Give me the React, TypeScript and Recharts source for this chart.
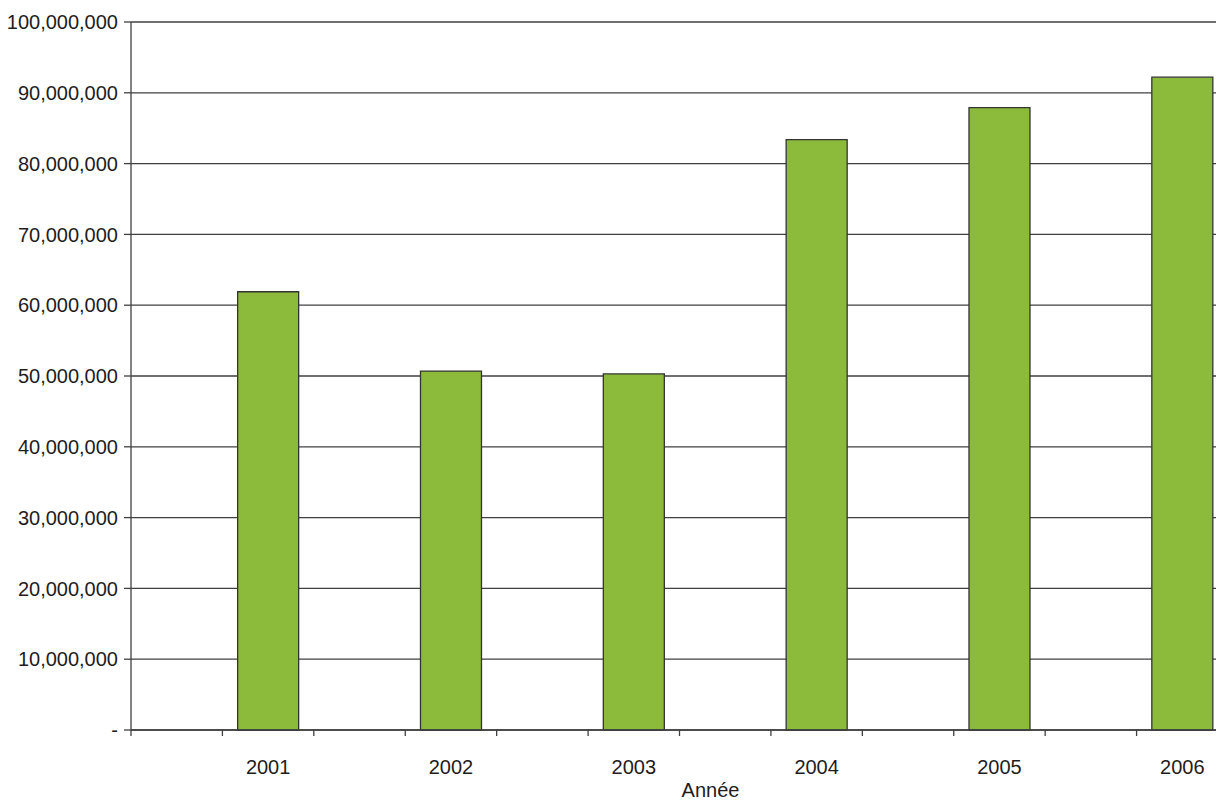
import { Bar, BarChart, CartesianGrid, XAxis, YAxis } from "recharts";

// 12 slots: the years sit in every second slot, the others are empty
const slots = ["", "2001", "", "2002", "", "2003", "", "2004", "", "2005", "", "2006"];
const amounts = [null, 61900000, null, 50700000, null, 50300000, null, 83400000, null, 87900000, null, 92200000];
const yTicks = [0, 10000000, 20000000, 30000000, 40000000, 50000000, 60000000, 70000000, 80000000, 90000000, 100000000];

const data = slots.map((label, i) => ({ label, value: amounts[i] }));

const TEXT = "#1f1c1d";
const LINE = "#404040";

function fmt(v: number) {
  if (v === 0) return "-";
  return v.toLocaleString("en-US");
}

/** Category tick: tick mark on the left edge of the slot, year in the middle. */
function SlotTick(props: any) {
  const { x, y, payload } = props;
  const half = payload?.offset ?? 0;
  return (
    <g>
      <line x1={x - half} x2={x - half} y1={y - 6} y2={y} stroke={LINE} strokeWidth={1.3} />
      {payload.value ? (
        <text x={x} y={y + 38} textAnchor="middle" fill={TEXT} fontSize={20}>
          {payload.value}
        </text>
      ) : null}
    </g>
  );
}

export default function App() {
  return (
    <div
      style={{
        position: "absolute",
        left: 0,
        top: 0,
        width: 1216,
        height: 802,
        overflow: "hidden",
        background: "#fff",
        fontFamily: "'Liberation Sans', Arial, sans-serif",
      }}
    >
      <BarChart
        width={1228}
        height={802}
        data={data}
        margin={{ top: 22, right: 0, bottom: 0, left: 0 }}
        barCategoryGap="16.67%"
      >
        <CartesianGrid vertical={false} stroke={LINE} strokeWidth={1.3} />
        <XAxis
          dataKey="label"
          height={72}
          interval={0}
          axisLine={{ stroke: LINE, strokeWidth: 1.3 }}
          tickLine={false}
          tickSize={6}
          tickMargin={0}
          tick={<SlotTick />}
          label={{ value: "Année", position: "insideBottom", offset: 5, dx: 31, fill: TEXT, fontSize: 20 }}
        />
        <YAxis
          width={131}
          domain={[0, 100000000]}
          ticks={yTicks}
          interval={0}
          tickFormatter={fmt}
          axisLine={{ stroke: LINE, strokeWidth: 1.3 }}
          tickLine={{ stroke: LINE, strokeWidth: 1.3 }}
          tickSize={7}
          tickMargin={6}
          tick={{ fill: TEXT, fontSize: 20 }}
        />
        <Bar dataKey="value" fill="#8cbb3c" stroke="#333" strokeWidth={1.3} isAnimationActive={false} />
      </BarChart>
    </div>
  );
}
